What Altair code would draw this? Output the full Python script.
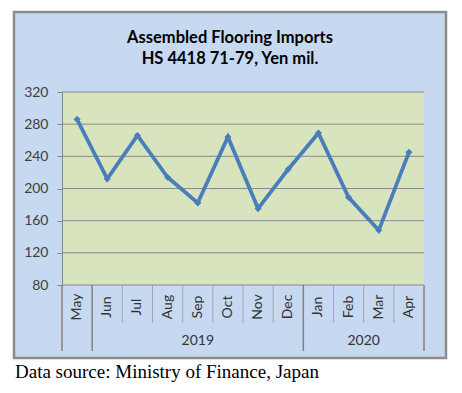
import altair as alt
import pandas as pd

months = ["May", "Jun", "Jul", "Aug", "Sep", "Oct", "Nov", "Dec", "Jan", "Feb", "Mar", "Apr"]
years = ["", "2019", "2019", "2019", "2019", "2019", "2019", "2019", "2020", "2020", "2020", "2020"]
values = [286, 212, 266, 214, 182, 264, 175, 224, 269, 189, 148, 245]
y_ticks = [80, 120, 160, 200, 240, 280, 320]
title_lines = ["Assembled Flooring Imports", "HS 4418 71-79, Yen mil."]
source_text = "Data source: Ministry of Finance, Japan"

W, H = 362, 193
n = len(months)
df = pd.DataFrame({"idx": list(range(n)), "month": months, "value": values})

# separators between categories
short_pos, long_pos = [], [-0.5, n - 0.5]
for i in range(1, n):
    if years[i] != years[i - 1]:
        long_pos.append(i - 0.5)
    else:
        short_pos.append(i - 0.5)
df_short = pd.DataFrame({"pos": short_pos})
df_long = pd.DataFrame({"pos": long_pos})

yr = [y for y in dict.fromkeys(years) if y]
df_years = pd.DataFrame({
    "year": yr,
    "center": [sum(i for i in range(n) if years[i] == y) / years.count(y) for y in yr],
})
df_grid = pd.DataFrame({"v": y_ticks})

xscale = alt.Scale(domain=[-0.5, n - 0.5], nice=False, zero=False)
yscale = alt.Scale(domain=[80, 320], nice=False, zero=False)
yaxis = alt.Axis(values=y_ticks, grid=False, title=None, domainColor="#868686",
                 tickColor="#868686", tickSize=5, labelPadding=9, labelFont="Lato",
                 labelFontSize=14, labelColor="#404040", zindex=1)

outer = alt.Chart(pd.DataFrame({"a": [0]})).mark_rect(
    fill="#C6D9F1", stroke="#8C8C8C", strokeWidth=2.5
).encode(x=alt.value(-48), x2=alt.value(384), y=alt.value(-80), y2=alt.value(266))

plotbg = alt.Chart(pd.DataFrame({"a": [0]})).mark_rect(fill="#D7E4BD").encode(
    x=alt.value(0), x2=alt.value(W), y=alt.value(0), y2=alt.value(H))

grid = alt.Chart(df_grid).mark_rule(color="#8A8A8A", strokeWidth=1).encode(
    y=alt.Y("v:Q", scale=yscale, axis=yaxis))

sep_short = alt.Chart(df_short).mark_rule(color="#A6A6A6", strokeWidth=1).encode(
    x=alt.X("pos:Q", scale=xscale, axis=None), y=alt.value(H), y2=alt.value(H + 38))
sep_long = alt.Chart(df_long).mark_rule(color="#808080", strokeWidth=1.5).encode(
    x=alt.X("pos:Q", scale=xscale, axis=None), y=alt.value(H), y2=alt.value(H + 66))

mlabels = alt.Chart(df).mark_text(angle=270, align="center", baseline="middle",
                                  font="Lato", fontSize=14, color="#333333").encode(
    x=alt.X("idx:Q", scale=xscale, axis=None), y=alt.value(H + 22), text="month:N")

ylabels = alt.Chart(df_years).mark_text(align="center", baseline="middle",
                                        font="Lato", fontSize=14, color="#333333").encode(
    x=alt.X("center:Q", scale=xscale, axis=None), y=alt.value(H + 56), text="year:N")

line = alt.Chart(df).mark_line(
    color="#4A7EBB", strokeWidth=3.8,
    point=alt.OverlayMarkDef(shape="diamond", size=50, filled=True, color="#4A7EBB")
).encode(
    x=alt.X("idx:Q", scale=xscale, axis=None),
    y=alt.Y("value:Q", scale=yscale, axis=yaxis),
)

df_title = pd.DataFrame({"t": title_lines, "dy": [-54, -33]})
title = alt.Chart(df_title).mark_text(
    align="center", baseline="middle", font="Lato", fontSize=16.5, fontWeight="bold", color="black"
).encode(x=alt.value(168), y=alt.Y("dy:Q", scale=None), text="t:N")

src = alt.Chart(pd.DataFrame({"t": [source_text]})).mark_text(
    align="left", baseline="alphabetic", font="Liberation Serif", fontSize=19, color="black"
).encode(x=alt.value(-47), y=alt.value(286), text="t:N")

chart = alt.layer(outer, plotbg, grid, sep_short, sep_long, mlabels, ylabels, line, title, src).properties(
    width=W, height=H,
    autosize=alt.AutoSizeParams(type="none"),
    padding={"left": 54, "top": 84, "right": 30, "bottom": 100},
).configure_view(stroke=None).configure(background="white")

chart.save("out.html", embed_options={"renderer": "svg", "actions": False})
